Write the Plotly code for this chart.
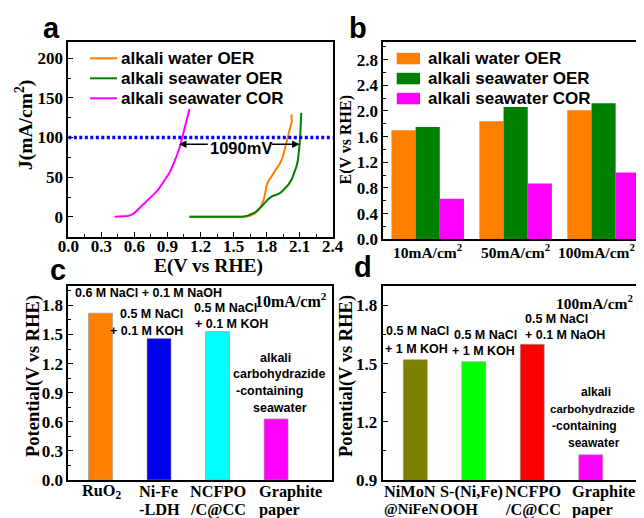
import plotly.graph_objects as go

# the page body adds an 8px margin (left/top) and clips the right 8px
WIN_W, WIN_H = 644, 518
OFF = 8
W, H = WIN_W - OFF, WIN_H - OFF
VIS_RIGHT = WIN_W - OFF
SERIF = "Liberation Serif"
SANS = "Liberation Sans"

# ---------------- data ----------------
series_names = ["alkali water OER", "alkali seawater OER", "alkali seawater COR"]

cor_E = [0.42, 0.46, 0.50, 0.54, 0.57, 0.60, 0.63, 0.66, 0.70, 0.74, 0.78, 0.82,
         0.86, 0.89, 0.92, 0.95, 0.98, 1.00, 1.02, 1.04, 1.06, 1.08, 1.09, 1.10]
cor_J = [0, 0.2, 0.5, 1.2, 2.5, 5, 9, 13, 18, 23, 29, 35,
         43, 49, 56, 65, 75, 83, 92, 103, 112, 122, 129, 136]

water_E = [1.10, 1.40, 1.60, 1.65, 1.69, 1.72, 1.75, 1.77, 1.785, 1.80, 1.82, 1.845,
           1.87, 1.895, 1.92, 1.94, 1.955, 1.97, 1.985, 1.995, 2.005, 2.015, 2.025,
           2.03, 2.025, 2.03]
water_J = [0, 0, 0.3, 1.5, 4, 8, 14, 20, 28, 40, 46, 51,
           57, 62, 67, 73, 80, 88, 95, 100, 106, 112, 117,
           121, 126, 129]

sea_E = [1.10, 1.40, 1.58, 1.62, 1.66, 1.70, 1.74, 1.78, 1.82, 1.85, 1.88, 1.91,
         1.94, 1.97, 2.00, 2.03, 2.05, 2.07, 2.085, 2.095, 2.10, 2.105, 2.108, 2.11, 2.115]
sea_J = [0, 0, 0.2, 1, 3, 6, 11, 17, 23, 26, 27.5, 29,
         32, 36, 41, 48, 55, 63, 72, 82, 92, 102, 112, 122, 131]

ref_J = 100
gap_label = "1090mV"
gap_E = [1.005, 2.10]
gap_J = 91.4

b_categories = ["10mA/cm<sup>2</sup>", "50mA/cm<sup>2</sup>", "100mA/cm<sup>2</sup>"]
b_water = [1.70, 1.84, 2.01]
b_sea_oer = [1.75, 2.06, 2.12]
b_sea_cor = [0.63, 0.87, 1.04]

c_catalysts = ["RuO2", "Ni-Fe-LDH", "NCFPO/C@CC", "Graphite paper"]
c_label_lines = [["RuO<sub>2</sub>"], ["Ni-Fe", "-LDH"], ["NCFPO", "/C@CC"], ["Graphite", "paper"]]
c_values = [1.72, 1.46, 1.53, 0.63]

d_catalysts = ["NiMoN@NiFeN", "S-(Ni,Fe)OOH", "NCFPO/C@CC*", "Graphite paper*"]
d_label_lines = [["NiMoN", "@NiFeN"], ["S-(Ni,Fe)", "OOH"], ["NCFPO", "/C@CC"], ["Graphite", "paper"]]
d_values = [1.52, 1.51, 1.60, 1.03]

# ---------------- styles ----------------
col_water = "#FF7F00"
col_sea = "#008000"
col_cor = "#FF00FF"
c_colors = ["#FF7F00", "#0000F0", "#00FFFF", "#FF00FF"]
d_colors = ["#808000", "#00FF00", "#FF0000", "#FF00FF"]


def px(x):
    return (x - OFF) / W


def py(y):
    return 1 - (y - OFF) / H


fig = go.Figure()

# panel a
fig.add_trace(go.Scatter(x=water_E, y=water_J, mode="lines", line=dict(color=col_water, width=2),
                         xaxis="x", yaxis="y", showlegend=False))
fig.add_trace(go.Scatter(x=sea_E, y=sea_J, mode="lines", line=dict(color=col_sea, width=2),
                         xaxis="x", yaxis="y", showlegend=False))
fig.add_trace(go.Scatter(x=cor_E, y=cor_J, mode="lines", line=dict(color=col_cor, width=2),
                         xaxis="x", yaxis="y", showlegend=False))
fig.add_trace(go.Scatter(x=[0, 2.4], y=[ref_J, ref_J], mode="lines",
                         line=dict(color="#0000FF", width=3.5, dash="3px,2.5px"),
                         xaxis="x", yaxis="y", showlegend=False))

# panel b
bw = 0.275
for vals, col, off in [(b_water, col_water, -1.5 * bw), (b_sea_oer, col_sea, -0.5 * bw),
                       (b_sea_cor, col_cor, 0.5 * bw)]:
    fig.add_trace(go.Bar(x=b_categories, y=vals, marker=dict(color=col, line=dict(width=0)),
                         width=bw, offset=off, xaxis="x2", yaxis="y2", showlegend=False))

# panel c / d
fig.add_trace(go.Bar(x=c_catalysts, y=c_values, marker=dict(color=c_colors, line=dict(width=0.6, color="#999999")),
                     width=0.41, xaxis="x3", yaxis="y3", showlegend=False))
fig.add_trace(go.Bar(x=d_catalysts, y=d_values, base=0, marker=dict(color=d_colors, line=dict(width=0.6, color="#999999")),
                     width=0.41, xaxis="x4", yaxis="y4", showlegend=False))

tickfont = dict(family=SERIF, size=17, color="black", weight="bold")
common = dict(showline=True, linewidth=2, linecolor="black", showgrid=False, zeroline=False, automargin=False,
              ticks="inside", tickcolor="black", tickwidth=1.2, ticklen=5, tickfont=tickfont)

fig.update_layout(
    width=W, height=H, margin=dict(l=0, r=0, t=0, b=0, autoexpand=False),
    paper_bgcolor="white", plot_bgcolor="white", barmode="overlay",
    xaxis=dict(domain=[px(68.3), px(332.7)], anchor="y", range=[0, 2.4], tickmode="array",
               tickvals=[0, 0.3, 0.6, 0.9, 1.2, 1.5, 1.8, 2.1, 2.4], tickformat=".1f", mirror=True,
               ticklabelstandoff=-7,
               minor=dict(ticks="inside", ticklen=3, dtick=0.15, tickcolor="black"), **common),
    yaxis=dict(domain=[py(236.7), py(42.3)], anchor="x", range=[-25, 220], tickvals=[0, 50, 100, 150, 200],
               mirror=True, minor=dict(ticks="inside", ticklen=3, dtick=25, tickcolor="black"), **common),
    xaxis2=dict(domain=[px(383.3), 1.0], anchor="y2", type="category", range=[-0.505, 2.46], mirror=True,
                showticklabels=False, **{**common, "ticks": ""}),
    yaxis2=dict(domain=[py(239.3), py(42.3)], anchor="x2", range=[0, 3.07], dtick=0.4, tick0=0,
                tickformat=".1f", minor=dict(ticks="inside", ticklen=3, dtick=0.2, tickcolor="black"), **common),
    xaxis3=dict(domain=[px(68.3), px(332.3)], anchor="y3", type="category", range=[-0.55, 3.96], mirror=True,
                showticklabels=False, **{**common, "ticks": ""}),
    yaxis3=dict(domain=[py(480), py(286)], anchor="x3", range=[0, 2.0], dtick=0.3, tick0=0, tickformat=".1f",
                mirror=True, minor=dict(ticks="inside", ticklen=3, dtick=0.15, tickcolor="black"), **common),
    xaxis4=dict(domain=[px(382.7), 1.0], anchor="y4", type="category", range=[-0.557, 3.91], mirror=True,
                showticklabels=False, **{**common, "ticks": ""}),
    yaxis4=dict(domain=[py(480), py(286)], anchor="x4", range=[0.9, 1.9], dtick=0.3, tick0=0.9, tickformat=".1f",
                minor=dict(ticks="inside", ticklen=3, dtick=0.15, tickcolor="black"), **common),
)

ann = []
shapes = []


def txt(x, y, text, size=12.5, family=SANS, xanchor="center", yanchor="middle", angle=0):
    ann.append(dict(x=px(x), y=py(y), xref="paper", yref="paper", text=text, showarrow=False,
                    xanchor=xanchor, yanchor=yanchor, textangle=angle,
                    font=dict(family=family, size=size, color="black", weight="bold")))


# panel letters
for lx, ly, letter in [(51, 28.2, "a"), (358, 28.5, "b"), (58, 270, "c"), (363, 267, "d")]:
    txt(lx, ly, letter, size=29)

# axis titles
txt(208, 266, "E(V vs RHE)", size=19.5, family=SERIF)
txt(25, 125, "J(mA/cm<sup>2</sup>)", size=19.5, family=SERIF, angle=-90)
txt(345.5, 140, "E(V vs RHE)", size=16, family=SERIF, angle=-90)
txt(33, 376, "Potential(V vs RHE)", size=18.5, family=SERIF, angle=-90)
txt(346, 376, "Potential(V vs RHE)", size=18.5, family=SERIF, angle=-90)

# panel b category labels (kept inside the visible page width)
for cat, sh in zip(b_categories, [0, 0, -7]):
    ann.append(dict(x=cat, y=py(251), xref="x2", yref="paper", text=cat, showarrow=False,
                    xanchor="center", yanchor="middle", xshift=sh,
                    font=dict(family=SERIF, size=15.5, color="black", weight="bold")))

# legends (manual)
leg_rows = [58.3, 78.3, 98.3]
leg_cols = [col_water, col_sea, col_cor]
for yy, name, col in zip(leg_rows, series_names, leg_cols):
    shapes.append(dict(type="line", xref="paper", yref="paper", x0=px(90), x1=px(117), y0=py(yy), y1=py(yy),
                       line=dict(color=col, width=2)))
    txt(118.5, yy, name, size=17, xanchor="left")
    shapes.append(dict(type="rect", xref="paper", yref="paper", x0=px(396.7), x1=px(420),
                       y0=py(yy - 5.5), y1=py(yy + 6), line=dict(width=0), fillcolor=col))
    txt(426, yy, name, size=17, xanchor="left")

# 1090 mV double arrow
ann.append(dict(x=gap_E[0], y=gap_J, ax=1.28, ay=gap_J, xref="x", yref="y", axref="x", ayref="y",
                text="", showarrow=True, arrowhead=2, arrowsize=1, arrowwidth=1.5, arrowcolor="black"))
ann.append(dict(x=gap_E[1], y=gap_J, ax=1.835, ay=gap_J, xref="x", yref="y", axref="x", ayref="y",
                text="", showarrow=True, arrowhead=2, arrowsize=1, arrowwidth=1.5, arrowcolor="black"))
txt(241, 148.3, gap_label, size=16.5)

# panel c annotations
txt(73.3, 293, "0.6 M NaCl + 0.1 M NaOH", xanchor="left")
txt(185, 314, "0.5 M NaCl", xanchor="right")
txt(185, 331, "+ 0.1 M KOH", xanchor="right")
txt(191.7, 307.5, "0.5 M NaCl", xanchor="left")
txt(192.7, 323.5, "+ 0.1 M KOH", xanchor="left")
txt(253.3, 300, "10mA/cm<sup>2</sup>", size=16, family=SERIF, xanchor="left")
for yy, xx, t in [(357.8, 275, "alkali"), (374, 279, "carbohydrazide"), (391, 269, "-containing"),
                  (407.5, 280, "seawater")]:
    txt(xx, yy, t)

# panel d annotations
txt(384, 331, "0.5 M NaCl", xanchor="left")
txt(383.3, 348.5, "+ 1 M KOH", xanchor="left")
txt(451.7, 334.5, "0.5 M NaCl", xanchor="left")
txt(450, 350.5, "+ 1 M KOH", xanchor="left")
txt(523.3, 319, "0.5 M NaCl", xanchor="left")
txt(523.3, 335, "+ 0.1 M NaOH", xanchor="left")
txt(VIS_RIGHT - 1, 302, "100mA/cm<sup>2</sup>", size=15.5, family=SERIF, xanchor="right")
for yy, xx, t, s in [(392, 596, "alkali", 12), (408.7, 592, "carbohydrazide", 11.5),
                     (425.5, 584, "-containing", 12), (442.5, 594, "seawater", 12)]:
    txt(xx, yy, t, size=s)

# category tick labels for c and d (left aligned lines)
c_shift = [-20.5, -22, -30, -19]
d_shift = [-33.6, -36, -29.5, -21]
d_sizes = [[16.3, 14.8], [16.3, 16.3], [16.3, 16.3], [16.3, 16.3]]
c_sizes = [[16.3], [16.3, 16.3], [16.3, 16.3], [16.3, 16.3]]
for axis, cats, lines_list, shifts, sizes in [("x3", c_catalysts, c_label_lines, c_shift, c_sizes),
                                              ("x4", d_catalysts, d_label_lines, d_shift, d_sizes)]:
    for cat, lines, sh, szs in zip(cats, lines_list, shifts, sizes):
        for k, (line, sz) in enumerate(zip(lines, szs)):
            ann.append(dict(x=cat, y=py(491 + 18 * k), xref=axis, yref="paper", text=line,
                            showarrow=False, xanchor="left", yanchor="middle", xshift=sh,
                            font=dict(family=SERIF, size=sz, color="black", weight="bold")))

fig.update_layout(annotations=ann, shapes=shapes)
fig.write_html("out.html")
